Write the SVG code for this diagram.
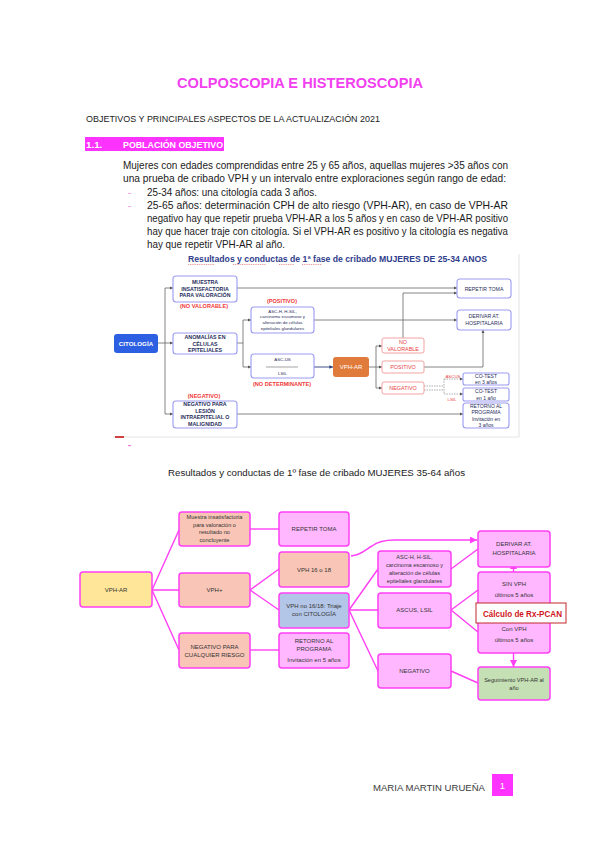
<svg xmlns="http://www.w3.org/2000/svg" width="599" height="848" viewBox="0 0 599 848">
<defs>
<style>
text{font-family:"Liberation Sans","DejaVu Sans",sans-serif}
.body{font-size:10.5px;fill:#1a1a1a}
.b1{fill:#fff;stroke:#9c9cf2;stroke-width:1.1}
.b1r{fill:#fff;stroke:#f3a3a3;stroke-width:1}
.t1{font-size:5.3px;font-weight:bold;fill:#1f2d5c;text-anchor:middle}
.t1s{font-size:4.4px;fill:#1f2d5c;text-anchor:middle}
.t1m{font-size:5.2px;fill:#1f2d5c;text-anchor:middle}
.t1c{font-size:5px;fill:#1f2d5c;text-anchor:middle}
.t1r{font-size:5.4px;fill:#e8423f;text-anchor:middle}
.t1rs{font-size:4.4px;fill:#e8423f;text-anchor:middle}
.lab1{font-size:5.6px;font-weight:bold;fill:#f03a3a;text-anchor:middle}
.c1{fill:none;stroke:#666;stroke-width:0.8}
.c1d{fill:none;stroke:#999;stroke-width:0.8;stroke-dasharray:1.5 1}
.b2{stroke:#ff3ff5;stroke-width:1.5}
.t2{font-size:6px;fill:#333;text-anchor:middle}
.t2s{font-size:5.6px;fill:#333;text-anchor:middle}
.c2{fill:none;stroke:#ff3ff5;stroke-width:1.4}
.sal{fill:#f8c5b6}
.pk{fill:#ffb8ff}
</style>
<marker id="a1" viewBox="0 0 6 6" refX="6" refY="3" markerWidth="4" markerHeight="4" orient="auto"><path d="M0,0 L6,3 L0,6 z" fill="#555"/></marker>
<marker id="a1n" viewBox="0 0 6 6" refX="6" refY="3" markerWidth="4" markerHeight="4" orient="auto"><path d="M0,0 L6,3 L0,6 z" fill="#2a3a7a"/></marker>
<marker id="a2" viewBox="0 0 6 6" refX="6" refY="3" markerWidth="5" markerHeight="5" orient="auto"><path d="M0,0 L6,3 L0,6 z" fill="#ff3ff5"/></marker>
</defs>
<rect width="599" height="848" fill="#fff"/>

<!-- Title and text -->
<text x="300" y="88" text-anchor="middle" font-size="15.5" font-weight="bold" fill="#f23ff0" textLength="246" lengthAdjust="spacingAndGlyphs">COLPOSCOPIA E HISTEROSCOPIA</text>
<text x="86" y="121.5" font-size="9.8" fill="#1a1a1a" textLength="294" lengthAdjust="spacingAndGlyphs">OBJETIVOS Y PRINCIPALES ASPECTOS DE LA ACTUALIZACIÓN 2021</text>
<rect x="85" y="137" width="139" height="14" fill="#ff33ff"/>
<text x="86" y="148" font-size="9.8" font-weight="bold" fill="#fff">1.1.</text>
<text x="123" y="148" font-size="9.8" font-weight="bold" fill="#fff" textLength="100" lengthAdjust="spacingAndGlyphs">POBLACIÓN OBJETIVO</text>

<text class="body" x="123" y="168.5" textLength="385" lengthAdjust="spacingAndGlyphs">Mujeres con edades comprendidas entre 25 y 65 años, aquellas mujeres &gt;35 años con</text>
<text class="body" x="123" y="181.5" textLength="383" lengthAdjust="spacingAndGlyphs">una prueba de cribado VPH y un intervalo entre exploraciones según rango de edad:</text>
<text x="128" y="195.5" font-size="10" fill="#f08ef0">-</text>
<text class="body" x="147" y="195.5" textLength="170" lengthAdjust="spacingAndGlyphs">25-34 años: una citología cada 3 años.</text>
<text x="128" y="208.5" font-size="10" fill="#f08ef0">-</text>
<text class="body" x="147" y="208.5" textLength="361" lengthAdjust="spacingAndGlyphs">25-65 años: determinación CPH de alto riesgo (VPH-AR), en caso de VPH-AR</text>
<text class="body" x="147" y="221.5" textLength="361" lengthAdjust="spacingAndGlyphs">negativo hay que repetir prueba VPH-AR a los 5 años y en caso de VPH-AR positivo</text>
<text class="body" x="147" y="234.5" textLength="361" lengthAdjust="spacingAndGlyphs">hay que hacer traje con citología. Si el VPH-AR es positivo y la citología es negativa</text>
<text class="body" x="147" y="247.5" textLength="138" lengthAdjust="spacingAndGlyphs">hay que repetir VPH-AR al año.</text>

<!-- Diagram 1 -->
<g id="diagram1">
<line x1="519" y1="254" x2="519" y2="437" stroke="#e2e2e2" stroke-width="1"/>
<line x1="113" y1="437" x2="519" y2="437" stroke="#e6e6e6" stroke-width="1"/>
<rect x="115" y="436" width="9" height="2" fill="#d04040"/>
<rect x="128" y="445" width="3" height="1.2" fill="#f07ae0"/>
<text x="188" y="261.5" font-size="8.6" font-weight="bold" fill="#2f3d8c" textLength="299" lengthAdjust="spacingAndGlyphs">Resultados y conductas de 1ª fase de cribado  MUJERES DE 25-34 ANOS</text>
<path d="M188,264.5 H215 M233,264.5 H266 M279,264.5 H294 M302,264.5 H322" stroke="#e05050" stroke-width="0.6" stroke-dasharray="1 0.8" fill="none"/>

<g id="connectors1">
<path class="c1" d="M158,343 H165 M165,288 V414"/>
<path class="c1" d="M165,288 H173" marker-end="url(#a1)"/>
<path class="c1" d="M165,343 H173" marker-end="url(#a1)"/>
<path class="c1" d="M165,414 H173" marker-end="url(#a1)"/>
<path class="c1" d="M237,343 H243 M243,320 V367"/>
<path class="c1" d="M243,320 H251" marker-end="url(#a1)"/>
<path class="c1" d="M243,367 H251" marker-end="url(#a1)"/>
<path class="c1" d="M237,288 H457" marker-end="url(#a1)"/>
<path class="c1" d="M314,320 H457" marker-end="url(#a1)"/>
<path d="M314,367 H333" fill="none" stroke="#2a3a7a" stroke-width="0.9" marker-end="url(#a1n)"/>
<path class="c1" d="M369,367 H376 M376,346 V388"/>
<path class="c1" d="M376,346 H382" marker-end="url(#a1)"/>
<path class="c1" d="M376,367 H382" marker-end="url(#a1)"/>
<path class="c1" d="M376,388 H382" marker-end="url(#a1)"/>
<path class="c1" d="M403,338 V293 H457" marker-end="url(#a1)"/>
<path class="c1" d="M424,367 H483 V330" marker-end="url(#a1)"/>
<path class="c1" d="M237,414 H463" marker-end="url(#a1)"/>
<path class="c1d" d="M424,386 H444 M424,390 H444 M444,379 V394"/>
<path class="c1d" d="M444,379 H463" marker-end="url(#a1)"/>
<path class="c1d" d="M444,394 H463" marker-end="url(#a1)"/>
</g>

<g id="n1-citologia"><rect x="114" y="334" width="44" height="19" rx="3" fill="#2d5fe3"/><text x="136" y="345.5" font-size="6.2" font-weight="bold" fill="#fff" text-anchor="middle">CITOLOGÍA</text></g>
<g id="n1-muestra"><rect class="b1" x="173" y="276" width="64" height="26" rx="3"/><text class="t1" x="205" y="284">MUESTRA</text><text class="t1" x="205" y="290.5">INSATISFACTORIA</text><text class="t1" x="205" y="297">PARA VALORACIÓN</text></g>
<text class="lab1" x="204" y="308">(NO VALORABLE)</text>
<g id="n1-anomalias"><rect class="b1" x="173" y="333" width="64" height="21" rx="3"/><text class="t1" x="205" y="339">ANOMALÍAS EN</text><text class="t1" x="205" y="345.5">CÉLULAS</text><text class="t1" x="205" y="352">EPITELIALES</text></g>
<text class="lab1" x="204" y="398">(NEGATIVO)</text>
<g id="n1-negativo"><rect class="b1" x="173" y="401" width="64" height="27" rx="3"/><text class="t1" x="205" y="406">NEGATIVO PARA</text><text class="t1" x="205" y="412.5">LESIÓN</text><text class="t1" x="205" y="419">INTRAEPITELIAL O</text><text class="t1" x="205" y="425.5">MALIGNIDAD</text></g>
<text class="lab1" x="282" y="303">(POSITIVO)</text>
<g id="n1-asch"><rect class="b1" x="251" y="307" width="63" height="26" rx="3"/><text class="t1s" x="282.5" y="312.5">ASC-H, H-SIL,</text><text class="t1s" x="282.5" y="318">carcinoma escamoso y</text><text class="t1s" x="282.5" y="324">alteración de células</text><text class="t1s" x="282.5" y="329.5">epiteliales glandulares</text></g>
<g id="n1-ascus"><rect class="b1" x="251" y="354" width="63" height="24" rx="3"/><text class="t1s" x="282.5" y="360.5">ASC-US</text><line x1="266" y1="367" x2="298" y2="367" stroke="#666" stroke-width="0.6"/><text class="t1s" x="282.5" y="374.5">LSIL</text></g>
<text class="lab1" x="282" y="386">(NO DETERMINANTE)</text>
<g id="n1-vphar"><rect x="333" y="357" width="36" height="20" rx="3" fill="#e07b3c"/><text x="351" y="369.2" font-size="6" fill="#fff" text-anchor="middle">VPH-AR</text></g>
<g id="n1-novalorable"><rect class="b1r" x="382" y="338" width="42" height="15" rx="2"/><text class="t1r" x="403" y="344">NO</text><text class="t1r" x="403" y="351">VALORABLE</text></g>
<g id="n1-positivo"><rect class="b1r" x="382" y="361" width="42" height="12" rx="2"/><text class="t1r" x="403" y="369">POSITIVO</text></g>
<g id="n1-negativo2"><rect class="b1r" x="382" y="382" width="42" height="12" rx="2"/><text class="t1r" x="403" y="390">NEGATIVO</text></g>
<text class="t1rs" x="453" y="377.5">ASCUS</text>
<text class="t1rs" x="452" y="400.5">LSIL</text>
<g id="n1-repetir"><rect class="b1" x="457" y="279" width="54" height="19" rx="3"/><text class="t1m" x="484" y="290.5">REPETIR TOMA</text></g>
<g id="n1-derivar"><rect class="b1" x="457" y="310" width="54" height="20" rx="3"/><text class="t1m" x="484" y="318">DERIVAR AT.</text><text class="t1m" x="484" y="325">HOSPITALARIA</text></g>
<g id="n1-cotest3"><rect class="b1" x="463" y="373" width="46" height="12" rx="2"/><text class="t1c" x="486" y="378">CO-TEST</text><text class="t1c" x="486" y="384">en 3 años</text></g>
<g id="n1-cotest1"><rect class="b1" x="463" y="388" width="46" height="13" rx="2"/><text class="t1c" x="486" y="393">CO-TEST</text><text class="t1c" x="486" y="399.5">en 1 año</text></g>
<g id="n1-retorno"><rect class="b1" x="463" y="403" width="46" height="25" rx="3"/><text class="t1c" x="486" y="407.5">RETORNO AL</text><text class="t1c" x="486" y="414">PROGRAMA</text><text class="t1c" x="486" y="420.5">Invitación en</text><text class="t1c" x="486" y="427">3 años</text></g>
</g>

<!-- Diagram 2 -->
<text x="168" y="475.5" font-size="9.6" fill="#1a1a1a" textLength="297" lengthAdjust="spacingAndGlyphs">Resultados y conductas de 1º fase de cribado MUJERES 35-64 años</text>

<g id="connectors2">
<path class="c2" d="M152,590 L179,530 M152,590 H179 M152,590 L179,650"/>
<path class="c2" d="M250,529 H279"/>
<path class="c2" d="M250,590 L279,569 M250,590 L279,610"/>
<path class="c2" d="M250,650 H279"/>
<path class="c2" d="M349,610 L378,569 M349,610 H378 M349,610 L378,671"/>
<path class="c2" d="M451,569 L478,549"/>
<path class="c2" d="M451,610 L478,590 M451,610 L478,632"/>
<path class="c2" d="M451,671 L478,683"/>
<path class="c2" d="M351,556 C362,555 366,549 372,546 C377,542 385,540 395,540 L477,540" stroke-width="1" marker-end="url(#a2)"/>
<path class="c2" d="M513.5,572 V562" stroke-width="1" marker-end="url(#a2)"/>
<path class="c2" d="M513.5,653 V667" stroke-width="1" marker-end="url(#a2)"/>
</g>

<g id="n2-vphar"><rect class="b2" x="80" y="572" width="72" height="35" rx="3" fill="#ffe699"/><text class="t2" x="116" y="592">VPH-AR</text></g>
<g id="n2-muestra"><rect class="b2 sal" x="179" y="512" width="71" height="34" rx="3"/><text class="t2s" x="214.5" y="519">Muestra insatisfactoria</text><text class="t2s" x="214.5" y="526.5">para valoración o</text><text class="t2s" x="214.5" y="534">resultado no</text><text class="t2s" x="214.5" y="541.5">concluyente</text></g>
<g id="n2-vphpos"><rect class="b2 sal" x="179" y="573" width="71" height="34" rx="3"/><text class="t2" x="214.5" y="592">VPH+</text></g>
<g id="n2-negativo"><rect class="b2 sal" x="179" y="633" width="71" height="35" rx="3"/><text class="t2" x="214.5" y="649">NEGATIVO PARA</text><text class="t2" x="214.5" y="656.5">CUALQUIER RIESGO</text></g>
<g id="n2-repetir"><rect class="b2 pk" x="279" y="512" width="70" height="34" rx="3"/><text class="t2" x="314" y="531">REPETIR TOMA</text></g>
<g id="n2-vph1618"><rect class="b2 sal" x="279" y="552" width="70" height="35" rx="3"/><text class="t2" x="314" y="571.5">VPH 16 o 18</text></g>
<g id="n2-vphno"><rect class="b2" x="279" y="593" width="70" height="35" rx="3" fill="#b4c6e7"/><text class="t2" x="314" y="608">VPH no 16/18: Triaje</text><text class="t2" x="314" y="615.5">con CITOLOGÍA</text></g>
<g id="n2-retorno"><rect class="b2 pk" x="279" y="633" width="70" height="35" rx="3"/><text class="t2" x="314" y="643">RETORNO AL</text><text class="t2" x="314" y="651">PROGRAMA</text><text class="t2" x="314" y="662">Invitación en 5 años</text></g>
<g id="n2-asch"><rect class="b2 pk" x="378" y="551" width="73" height="36" rx="3"/><text class="t2s" x="414.5" y="559">ASC-H, H-SIL,</text><text class="t2s" x="414.5" y="567">carcinoma escamoso y</text><text class="t2s" x="414.5" y="575">alteración de células</text><text class="t2s" x="414.5" y="583">epiteliales glandulares</text></g>
<g id="n2-ascus"><rect class="b2 pk" x="378" y="593" width="73" height="35" rx="3"/><text class="t2" x="414.5" y="612">ASCUS, LSIL</text></g>
<g id="n2-neg"><rect class="b2 pk" x="378" y="654" width="73" height="34" rx="3"/><text class="t2" x="414.5" y="673">NEGATIVO</text></g>
<g id="n2-derivar"><rect class="b2 pk" x="478" y="531" width="72" height="36" rx="3"/><text class="t2" x="514" y="546">DERIVAR AT.</text><text class="t2" x="514" y="555">HOSPITALARIA</text></g>
<g id="n2-sinvph"><rect class="b2 pk" x="478" y="572" width="72" height="81" rx="3"/><text class="t2" x="514" y="586">SIN VPH</text><text class="t2" x="514" y="597">últimos 5 años</text><text class="t2" x="514" y="631">Con VPH</text><text class="t2" x="514" y="642">últimos 5 años</text></g>
<g id="n2-rxpcan"><rect x="476" y="603" width="90" height="20" fill="#fff" stroke="#c0282c" stroke-width="1"/><text x="522.5" y="616.5" font-size="9.2" font-weight="bold" fill="#d0151c" text-anchor="middle" textLength="79" lengthAdjust="spacingAndGlyphs">Cálculo de  Rx-PCAN</text></g>
<g id="n2-seguimiento"><rect class="b2" x="478" y="667" width="72" height="33" rx="3" fill="#c5e0b4"/><text class="t2s" x="514" y="682">Seguimiento VPH-AR al</text><text class="t2s" x="514" y="690">año</text></g>

<!-- Footer -->
<text x="373" y="790.5" font-size="9.5" fill="#3a3a3a" textLength="112" lengthAdjust="spacingAndGlyphs">MARIA MARTIN URUEÑA</text>
<rect x="492" y="774" width="21" height="22" fill="#ff33ff"/>
<text x="502.5" y="789" font-size="9.5" fill="#fff" text-anchor="middle">1</text>
</svg>
